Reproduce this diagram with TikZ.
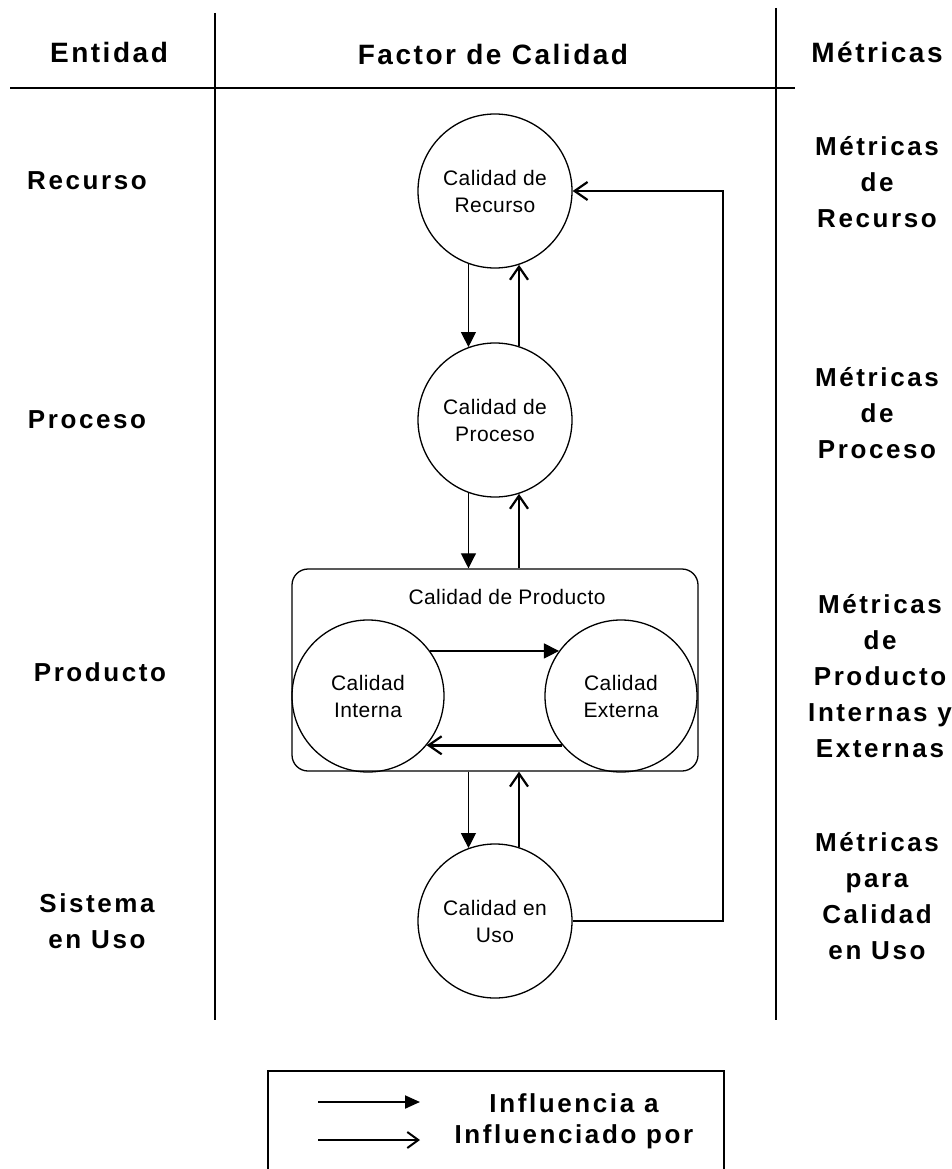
\documentclass[tikz,border=0pt]{standalone}
\usepackage{fontspec}
\setmainfont{Liberation Sans}
\newfontfamily\hdrfont[LetterSpace=9]{Liberation Sans Bold}
\newfontfamily\lblfont[LetterSpace=10]{Liberation Sans Bold}
\newfontfamily\inffont[LetterSpace=2]{Liberation Sans}
\usetikzlibrary{arrows.meta}
\begin{document}
\begin{tikzpicture}[x=1pt,y=-1pt,
  header/.style={font=\hdrfont\fontsize{28}{32}\selectfont, inner sep=0pt},
  collabel/.style={font=\lblfont\fontsize{26}{36}\selectfont, align=center, inner sep=0pt},
  qcircle/.style={circle, draw, line width=1.3pt, minimum size=154pt, inner sep=0pt,
    font=\inffont\fontsize{21}{27}\selectfont, align=center},
  prodbox/.style={draw, line width=1.3pt, rounded corners=16pt},
  influye/.style={line width=1.2pt, -{Triangle[length=15pt,width=15pt]}},
  influido/.style={line width=2.6pt, -{Straight Barb[length=13pt,width=18pt,line width=2.2pt]}},
  divider/.style={line width=2pt}]
\useasboundingbox (0,0) rectangle (952,1169);

% column headers and dividers
\node[header] (hEnt) at (109,52) {Entidad};
\node[header] (hFac) at (493,54) {Factor de Calidad};
\node[header] (hMet) at (877,52) {Métricas};
\coordinate (hl) at (10,88);
\coordinate (hr) at (795,88);
\draw[divider] (hl) -- (hr);
\coordinate (v1t) at (215,13);
\coordinate (v1b) at (215,1020);
\coordinate (v2t) at (776,8);
\coordinate (v2b) at (776,1020);
\draw[divider] (v1t) -- (v1b);
\draw[divider] (v2t) -- (v2b);

% entities
\node[collabel] (eRec) at (87,181) {Recurso};
\node[collabel] (ePro) at (87,420) {Proceso};
\node[collabel] (eProd) at (100,672) {Producto};
\node[collabel] (eSis) at (97,921) {Sistema\\en Uso};

% metrics
\node[collabel] (mRec) at (877,182) {Métricas\\de\\Recurso};
\node[collabel] (mPro) at (877,413) {Métricas\\de\\Proceso};
\node[collabel] (mProd) at (880,676) {Métricas\\de\\Producto\\Internas y\\Externas};
\node[collabel] (mUso) at (877,896) {Métricas\\para\\Calidad\\en Uso};

% quality factors
\node[qcircle] (rec) at (495,191) {Calidad de\\Recurso};
\node[qcircle] (proc) at (495,420) {Calidad de\\Proceso};
\node[prodbox, minimum width=406pt, minimum height=202pt] (prod) at (495,670) {};
\node[font=\inffont\fontsize{21}{27}\selectfont, inner sep=0pt] (prodT) at (507,597) {Calidad de Producto};
\node[qcircle, minimum size=152pt] (int) at (368,696) {Calidad\\Interna};
\node[qcircle, minimum size=152pt] (ext) at (621,696) {Calidad\\Externa};
\node[qcircle] (uso) at (495,921) {Calidad en\\Uso};

% influences between levels
\draw[influye] (rec.-110) -- (proc.110);
\draw[influido] (proc.72) -- (rec.-72);
\draw[influye] (proc.-110) -- (proc.-110 |- prod.north);
\draw[influido] (proc.-72 |- prod.north) -- (proc.-72);
\draw[influye] (uso.110 |- prod.south) -- (uso.110);
\draw[influido] (uso.72) -- (uso.72 |- prod.south);
\draw[influye] (int.36) -- (ext.144);
\draw[influido] (ext.-140) -- (int.-40);

% feedback from quality in use to resources
\coordinate (fb) at (723,0);
\draw[influido] (uso.east) -- (uso.east -| fb) -- (rec.east -| fb) -- (rec.east);

% legend
\coordinate (lg1) at (268,1180);
\coordinate (lg2) at (268,1071);
\coordinate (lg3) at (724,1071);
\coordinate (lg4) at (724,1180);
\draw[line width=1.5pt] (lg1) -- (lg2) -- (lg3) -- (lg4);
\coordinate (a1s) at (318,1102);
\coordinate (a1e) at (420,1102);
\coordinate (a2s) at (318,1140);
\coordinate (a2e) at (420,1140);
\draw[line width=2pt, -{Triangle[length=15pt,width=13pt]}] (a1s) -- (a1e);
\draw[line width=2pt, -{Straight Barb[length=11pt,width=16pt,line width=2pt]}] (a2s) -- (a2e);
\node[collabel] (l1) at (574,1103) {Influencia a};
\node[collabel] (l2) at (574,1137) {Influenciado por};
\end{tikzpicture}
\end{document}
